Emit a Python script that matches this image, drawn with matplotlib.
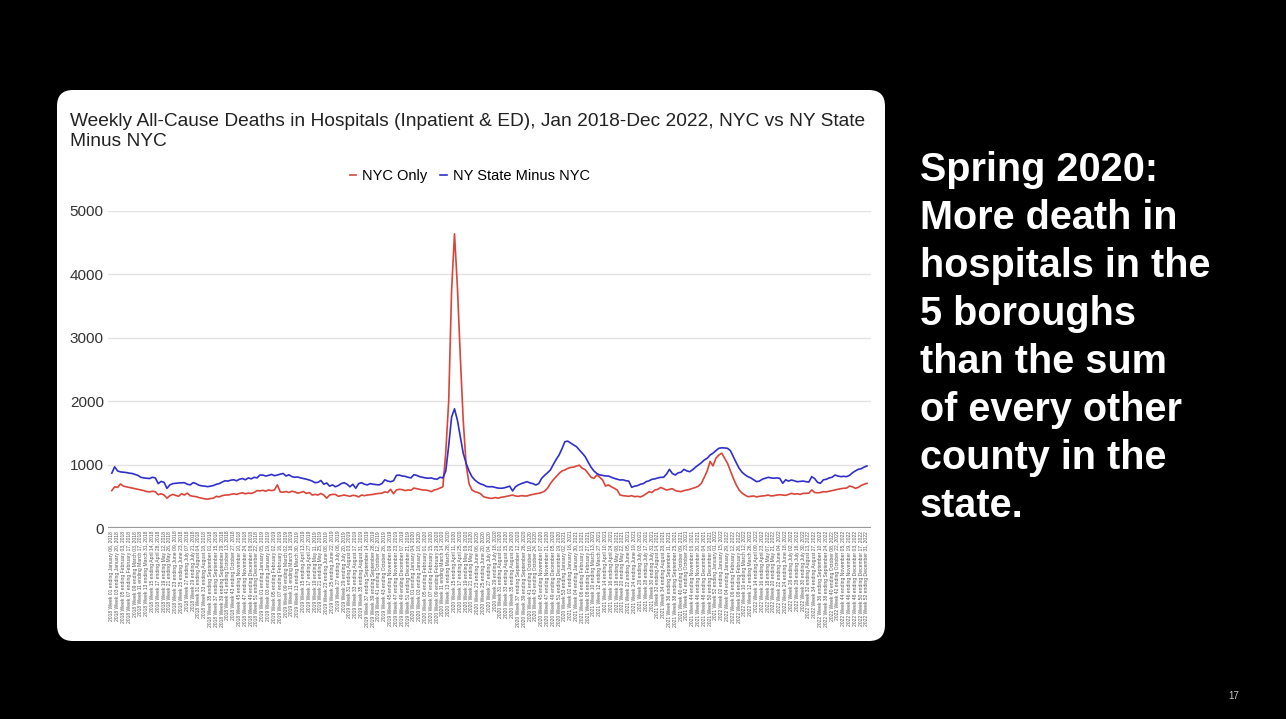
import matplotlib
matplotlib.use("Agg")
import matplotlib.pyplot as plt
from matplotlib.patches import FancyBboxPatch
import pandas as pd

# ----- data ------------------------------------------------------------------------------------- #

nyc_2018 = [590, 650, 640, 695, 660, 650, 640, 630, 620, 610,
            600, 590, 575, 570, 580, 570, 525, 540, 520, 470,
            510, 530, 515, 500, 540, 520, 550, 510, 500, 495,
            480, 470, 460, 455, 465, 470, 500, 490, 510, 520,
            520, 530, 540, 530, 545, 555, 540, 550, 545, 560, 590, 585]
nyc_2019 = [595, 580, 600, 590, 600, 680, 570, 565, 575, 560,
            580, 570, 550, 560, 575, 545, 560, 520, 530, 520,
            545, 520, 470, 520, 530, 530, 500, 510, 520, 510,
            500, 515, 510, 490, 520, 510, 520, 525, 530, 540,
            545, 550, 570, 560, 610, 540, 600, 610, 605, 590, 600, 595]
nyc_2020 = [630, 620, 610, 600, 599, 590, 573, 600, 610, 630,
            650, 1200, 2000, 3750, 4640, 3800, 2700, 1700, 1000, 700,
            600, 573, 560, 540, 494, 480, 470, 468, 480, 470,
            484, 490, 500, 510, 520, 505, 500, 510, 505, 505,
            520, 530, 540, 547, 560, 580, 626, 700, 760, 810,
            860, 900, 915]
nyc_2021 = [941, 955, 960, 978, 990, 941, 920, 862, 800, 783,
            836, 800, 757, 662, 680, 650, 626, 600, 520, 510,
            505, 500, 510, 494, 500, 490, 510, 540, 573, 560,
            600, 610, 640, 620, 599, 610, 620, 590, 580, 573,
            590, 600, 610, 626, 640, 660, 705, 800, 900, 1050,
            980, 1100]
nyc_2022 = [1150, 1180, 1100, 1020, 900, 783, 680, 599, 550, 520,
            494, 500, 505, 490, 500, 505, 510, 520, 505, 510,
            520, 525, 520, 515, 530, 547, 535, 540, 530, 545,
            547, 550, 600, 560, 555, 560, 573, 570, 580, 590,
            600, 610, 620, 626, 630, 662, 650, 626, 640, 670,
            690, 705]

rest_2018 = [865, 965, 900, 885, 880, 875, 865, 860, 845, 830,
             800, 790, 785, 780, 800, 790, 700, 735, 720, 625,
             680, 700, 705, 710, 712, 715, 690, 680, 715, 700,
             675, 665, 660, 652, 660, 670, 690, 700, 725, 745,
             740, 755, 760, 745, 770, 780, 760, 790, 775, 800, 790, 835]
rest_2019 = [835, 820, 830, 845, 825, 835, 850, 860, 820, 840,
             810, 800, 805, 790, 780, 770, 757, 740, 715, 720,
             750, 690, 710, 660, 680, 650, 670, 700, 715, 690,
             650, 690, 626, 700, 715, 690, 680, 700, 690, 685,
             680, 700, 760, 740, 730, 745, 830, 835, 820, 815, 800, 790]
rest_2020 = [840, 830, 810, 800, 790, 785, 790, 775, 770, 800,
             790, 900, 1300, 1750, 1880, 1700, 1440, 1180, 1020, 900,
             810, 757, 720, 694, 680, 655, 650, 652, 640, 630,
             626, 632, 645, 660, 584, 650, 680, 700, 715, 731,
             710, 700, 678, 700, 783, 830, 870, 915, 1000, 1080,
             1151, 1250, 1362]
rest_2021 = [1370, 1340, 1310, 1283, 1230, 1180, 1125, 1040, 960, 900,
             860, 836, 830, 820, 820, 800, 783, 770, 757, 760,
             746, 740, 642, 660, 668, 690, 700, 731, 745, 768,
             775, 790, 799, 800, 850, 925, 860, 836, 870, 880,
             925, 900, 888, 920, 960, 994, 1030, 1073, 1100, 1151,
             1180, 1220]
rest_2022 = [1257, 1265, 1262, 1257, 1220, 1125, 1030, 941, 880, 840,
             810, 790, 760, 731, 740, 770, 785, 799, 790, 785,
             790, 783, 705, 760, 740, 757, 745, 730, 735, 740,
             731, 725, 810, 780, 720, 705, 760, 768, 790, 800,
             836, 820, 810, 815, 810, 830, 870, 900, 925, 935,
             960, 978]

nyc_only = nyc_2018 + nyc_2019 + nyc_2020 + nyc_2021 + nyc_2022
state_minus_nyc = rest_2018 + rest_2019 + rest_2020 + rest_2021 + rest_2022

y_ticks = [0, 1000, 2000, 3000, 4000, 5000]

# weekly MMWR labels, "2018 Week 01 ending January 06, 2018", every other week shown
week_ends = pd.date_range("2018-01-06", periods=len(nyc_only), freq="W-SAT")
week_labels = []
for d in week_ends:
    mid = d - pd.Timedelta(days=3)
    wk = (mid.dayofyear - 1) // 7 + 1
    week_labels.append(f"{mid.year} Week {wk:02d} ending {d.strftime('%B %d, %Y')}")

side_text = ["Spring 2020:", "More death in", "hospitals in the", "5 boroughs",
             "than the sum", "of every other", "county in the", "state."]

# ----- figure ----------------------------------------------------------------------------------- #

W, H = 1286, 719
fig = plt.figure(figsize=(W / 100, H / 100), dpi=100, facecolor="black")

# pixel-space backdrop: slide, card, texts
bg = fig.add_axes([0, 0, 1, 1], zorder=0)
bg.set_xlim(0, W)
bg.set_ylim(H, 0)
bg.axis("off")
bg.add_patch(FancyBboxPatch((57, 90), 828, 551, boxstyle="round,pad=0,rounding_size=16",
                            facecolor="white", edgecolor="none"))

bg.text(70, 113, "Weekly All-Cause Deaths in Hospitals (Inpatient & ED), Jan 2018-Dec 2022, NYC vs NY State\nMinus NYC",
        family="Liberation Sans", fontsize=13.8, color="#222222", va="top", ha="left", linespacing=1.2)

for k, line in enumerate(side_text):
    bg.text(920, 170 + 48 * k, line, family="Liberation Sans", fontweight="bold",
            fontsize=28.5, color="white", va="center", ha="left")

bg.text(1234, 696, "17", family="Liberation Sans", fontsize=7, color="#cccccc", va="center", ha="center")

# chart
ax = fig.add_axes([108 / W, 1 - 528 / H, (871 - 108) / W, (528 - 211) / H], zorder=1)
ax.set_facecolor("white")
x = list(range(len(nyc_only)))
ax.plot(x, nyc_only, color="#d9453a", lw=1.2, label="NYC Only")
ax.plot(x, state_minus_nyc, color="#2f2fcc", lw=1.2, label="NY State Minus NYC")

ax.set_xlim(-1.3, len(x) + 0.4)
ax.set_ylim(0, 5000)
ax.set_yticks(y_ticks)
ax.set_yticklabels([str(v) for v in y_ticks], family="Liberation Sans", fontsize=11, color="#333333")
ax.grid(axis="y", color="#e3e3e3", lw=1)
ax.axhline(0, color="#9a9a9a", lw=1.6, zorder=3)
ax.set_axisbelow(True)
for s in ax.spines.values():
    s.set_visible(False)
ax.tick_params(axis="y", length=0, pad=3)

ax.set_xticks(x[::2])
ax.set_xticklabels(week_labels[::2], rotation=90, fontsize=3.6, color="#555555",
                   family="Liberation Sans", va="top")
ax.tick_params(axis="x", length=0, pad=2)

ax.legend(loc="center", bbox_to_anchor=(0.474, 1.11), ncol=2, frameon=False,
          handlelength=0.45, handletextpad=0.4, columnspacing=0.9,
          prop={"family": "Liberation Sans", "size": 10.5})

fig.savefig("out.png", dpi=100, facecolor="black")
